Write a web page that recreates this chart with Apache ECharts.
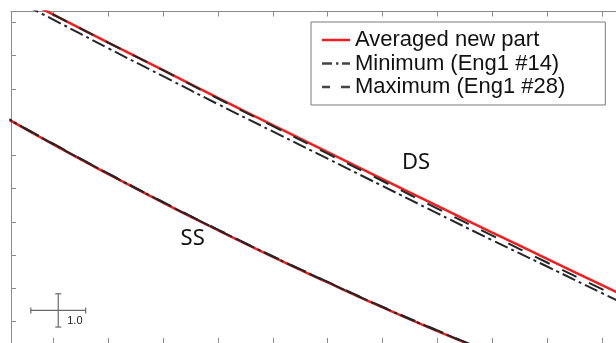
<!DOCTYPE html>
<html>
<head>
<meta charset="utf-8">
<script src="https://cdn.jsdelivr.net/npm/echarts@6/dist/echarts.min.js"></script>
<style>
html, body { margin: 0; padding: 0; background: #fff; }
#chart { width: 616px; height: 343px; }
</style>
</head>
<body>
<div id="chart"></div>
<script>
// values (x and y in tick units)
var xDS = [0.5, 1, 2, 3, 4, 5, 6, 7, 8, 9, 10, 11, 12];
var dsAvg = [10.65, 10.23, 9.39, 8.56, 7.73, 6.91, 6.10, 5.29, 4.48, 3.68, 2.89, 2.10, 1.32];
var dsMin = [10.50, 10.08, 9.22, 8.38, 7.54, 6.72, 5.90, 5.08, 4.26, 3.45, 2.66, 1.86, 1.07];
var dsMax = [10.65, 10.23, 9.39, 8.56, 7.71, 6.88, 6.05, 5.23, 4.40, 3.59, 2.78, 1.98, 1.18];

var xSS = [0, 1, 2, 3, 4, 5, 6, 7, 8, 9];
var ssAvg = [7.25, 6.33, 5.44, 4.58, 3.75, 2.95, 2.18, 1.43, 0.72, 0.03];
var ssMin = [7.26, 6.34, 5.45, 4.59, 3.76, 2.96, 2.19, 1.44, 0.73, 0.04];
var ssMax = [7.27, 6.35, 5.46, 4.60, 3.77, 2.97, 2.20, 1.45, 0.74, 0.05];

var groupLabels = [[7.61, 5.77, 'DS'], [3.54, 3.49, 'SS']];
var scaleBar = [[1.09, 1.34, 1.0]];

var names = ['Averaged new part', 'Minimum (Eng1 #14)', 'Maximum (Eng1 #28)'];

function pairs(xs, ys) {
  return xs.map(function (x, i) { return [x, ys[i]]; });
}

var RED = '#f01e1e';
var BLACK = '#262626';
var AXIS = '#8a8a8a';

// legend swatches: solid, dash-dot, dashed (28 x 2.5 box)
var ICON_SOLID = 'path://M0,0h28v2.5h-28z';
var ICON_DASHDOT = 'path://M0,0h10v2.5h-10z M14,0h2.5v2.5h-2.5z M20,0h8v2.5h-8z';
var ICON_DASHED = 'path://M0,0h8v2.5h-8z M19,0h9v2.5h-9z';

var chart = echarts.init(document.getElementById('chart'));

var xCommon = {
  type: 'value',
  min: 0.229,
  max: 11.255,
  minInterval: 1,
  maxInterval: 1,
  axisLine: { show: true, lineStyle: { color: AXIS, width: 1 } },
  axisTick: { show: true, inside: true, length: 5, lineStyle: { color: AXIS } },
  axisLabel: { show: false },
  splitLine: { show: false }
};

function lineSeries(name, xs, ys, color, width, dash) {
  return {
    type: 'line',
    name: name,
    data: pairs(xs, ys),
    symbol: 'none',
    smooth: true,
    lineStyle: { color: color, width: width, type: dash },
    itemStyle: { color: color },
    silent: true
  };
}

var option = {
  backgroundColor: '#fff',
  animation: false,
  grid: { left: 11, right: 0, top: 11.5, bottom: 0 },
  xAxis: [
    echarts.util.merge({ position: 'top' }, xCommon, true),
    echarts.util.merge({ position: 'bottom' }, xCommon, true)
  ],
  yAxis: {
    type: 'value',
    min: 0.361,
    max: 10.325,
    minInterval: 1,
    maxInterval: 1,
    axisLine: { show: true, lineStyle: { color: AXIS, width: 1 } },
    axisTick: { show: true, inside: true, length: 5, lineStyle: { color: AXIS } },
    axisLabel: { show: false },
    splitLine: { show: false }
  },
  legend: {
    orient: 'vertical',
    left: 311,
    top: 22,
    padding: [7, 40, 7, 11],
    itemWidth: 28,
    itemHeight: 2.5,
    itemGap: 1.5,
    borderColor: '#7a7a7a',
    borderWidth: 1,
    backgroundColor: '#fff',
    textStyle: { fontFamily: 'Liberation Sans', fontSize: 22, color: '#111', lineHeight: 22 },
    data: [
      { name: names[0], icon: ICON_SOLID, itemStyle: { color: RED } },
      { name: names[1], icon: ICON_DASHDOT, itemStyle: { color: '#444' } },
      { name: names[2], icon: ICON_DASHED, itemStyle: { color: '#444' } }
    ]
  },
  series: [
    lineSeries(names[0], xDS, dsAvg, RED, 2.5, 'solid'),
    lineSeries(names[0], xSS, ssAvg, RED, 2.5, 'solid'),
    lineSeries(names[1], xDS, dsMin, BLACK, 2, [14, 4, 3, 4]),
    lineSeries(names[1], xSS, ssMin, BLACK, 2, [14, 4, 3, 4]),
    lineSeries(names[2], xDS, dsMax, BLACK, 2, [16, 14]),
    lineSeries(names[2], xSS, ssMax, BLACK, 2, [16, 14]),
    {
      type: 'custom',
      name: 'labels',
      data: groupLabels,
      silent: true,
      clip: false,
      renderItem: function (params, api) {
        var p = api.coord([api.value(0), api.value(1)]);
        return {
          type: 'text',
          x: p[0],
          y: p[1],
          style: {
            text: groupLabels[params.dataIndex][2],
            fontFamily: 'Noto Sans',
            fontSize: 22,
            fill: '#111',
            align: 'center',
            verticalAlign: 'middle'
          }
        };
      }
    },
    {
      type: 'custom',
      name: 'scale',
      data: scaleBar,
      silent: true,
      clip: false,
      renderItem: function (params, api) {
        var x = api.value(0), y = api.value(1), s = api.value(2);
        var c = api.coord([x, y]);
        var l = api.coord([x - s / 2, y]);
        var r = api.coord([x + s / 2, y]);
        var t = api.coord([x, y + s / 2]);
        var b = api.coord([x, y - s / 2]);
        var st = { stroke: '#6a6a6a', lineWidth: 1.2 };
        var cap = 3;
        return {
          type: 'group',
          children: [
            { type: 'line', shape: { x1: l[0], y1: l[1], x2: r[0], y2: r[1] }, style: st },
            { type: 'line', shape: { x1: t[0], y1: t[1], x2: b[0], y2: b[1] }, style: st },
            { type: 'line', shape: { x1: l[0], y1: l[1] - cap, x2: l[0], y2: l[1] + cap }, style: st },
            { type: 'line', shape: { x1: r[0], y1: r[1] - cap, x2: r[0], y2: r[1] + cap }, style: st },
            { type: 'line', shape: { x1: t[0] - cap, y1: t[1], x2: t[0] + cap, y2: t[1] }, style: st },
            { type: 'line', shape: { x1: b[0] - cap, y1: b[1], x2: b[0] + cap, y2: b[1] }, style: st },
            {
              type: 'text',
              x: c[0] + 9,
              y: c[1] + 11,
              style: {
                text: s.toFixed(1),
                fontFamily: 'Liberation Sans',
                fontSize: 11,
                fill: '#222',
                align: 'left',
                verticalAlign: 'middle'
              }
            }
          ]
        };
      }
    }
  ]
};

chart.setOption(option);
</script>
</body>
</html>
